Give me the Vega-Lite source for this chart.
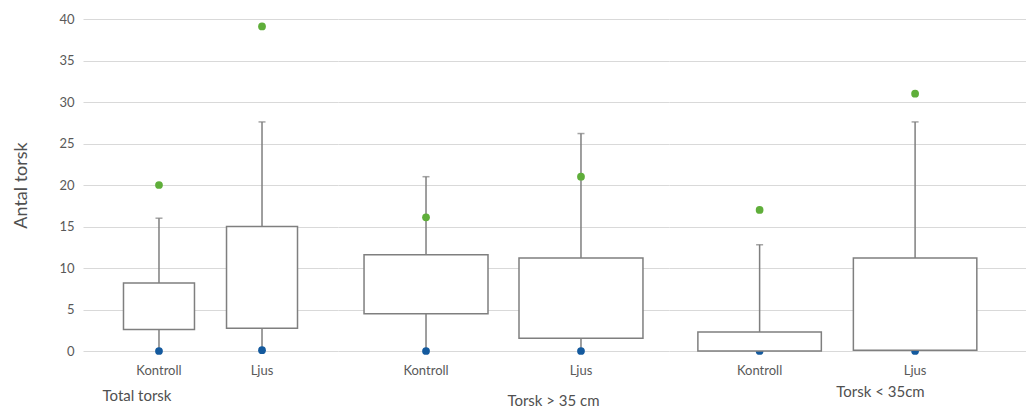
{
  "$schema": "https://vega.github.io/schema/vega-lite/v6.json",
  "padding": {"left": 12, "top": 13, "right": 0, "bottom": 0},
  "background": "white",
  "spacing": 0,
  "bounds": "flush",
  "config": {
    "view": {"stroke": null},
    "font": "Lato",
    "axis": {"gridColor": "#d9d9d9", "gridWidth": 1, "labelColor": "#595959", "titleColor": "#505050", "labelFont": "Lato", "titleFont": "Lato", "titleFontWeight": "normal"}
  },
  "data": {
    "values": [
      {"group": "Total torsk", "cat": "Kontroll", "low": 0, "q1": 2.6, "q3": 8.2, "hi": 16, "max": 20},
      {"group": "Total torsk", "cat": "Ljus", "low": 0.1, "q1": 2.75, "q3": 15, "hi": 27.6, "max": 39.1},
      {"group": "Torsk > 35 cm", "cat": "Kontroll", "low": 0, "q1": 4.5, "q3": 11.6, "hi": 21, "max": 16.1},
      {"group": "Torsk > 35 cm", "cat": "Ljus", "low": 0, "q1": 1.55, "q3": 11.2, "hi": 26.2, "max": 21},
      {"group": "Torsk < 35cm", "cat": "Kontroll", "low": 0, "q1": 0, "q3": 2.3, "hi": 12.8, "max": 17},
      {"group": "Torsk < 35cm", "cat": "Ljus", "low": 0, "q1": 0.1, "q3": 11.2, "hi": 27.6, "max": 31}
    ]
  },
  "hconcat": [
    {
      "width": 255, "height": 332,
      "transform": [{"filter": "datum.group === 'Total torsk'"}],
      "encoding": {
        "x": {"field": "cat", "type": "nominal", "sort": ["Kontroll", "Ljus"],
          "scale": {"paddingInner": 0.311, "paddingOuter": 0.393, "align": 0.5},
          "axis": {"title": "Total torsk", "labelAngle": 0, "domain": false, "ticks": false, "labelFontSize": 13, "labelPadding": 13, "titleFontSize": 15, "titleX": 19, "titleY": 44, "titleAlign": "left", "titleBaseline": "middle"}}
      },
      "layer": [
        {"mark": {"type": "rule", "color": "#7f7f7f", "strokeWidth": 1.5},
         "encoding": {"y": {"field": "low", "type": "quantitative", "scale": {"domain": [0, 40], "nice": false},
            "axis": {"title": "Antal torsk", "values": [0,5,10,15,20,25,30,35,40], "domain": false, "ticks": false, "labelFontSize": 13, "labelPadding": 9, "titleFontSize": 18, "titleX": -62, "titleY": 166, "titleAngle": -90, "titleAlign": "center", "titleBaseline": "middle"}},
          "y2": {"field": "q1"}}},
        {"mark": {"type": "rule", "color": "#7f7f7f", "strokeWidth": 1.5},
         "encoding": {"y": {"field": "q3", "type": "quantitative"}, "y2": {"field": "hi"}}},
        {"mark": {"type": "tick", "color": "#7f7f7f", "thickness": 1.5, "size": 7, "orient": "horizontal"},
         "encoding": {"y": {"field": "hi", "type": "quantitative"}}},
        {"mark": {"type": "circle", "color": "#5fae3a", "opacity": 1, "size": 60},
         "encoding": {"y": {"field": "max", "type": "quantitative"}}},
        {"mark": {"type": "circle", "color": "#145a9e", "opacity": 1, "size": 60},
         "encoding": {"y": {"field": "low", "type": "quantitative"}}},
        {"mark": {"type": "bar", "fill": "white", "stroke": "#7f7f7f", "strokeWidth": 1.5},
         "encoding": {"y": {"field": "q1", "type": "quantitative"}, "y2": {"field": "q3"}}}
      ]
    },
    {
      "width": 331, "height": 332,
      "transform": [{"filter": "datum.group === 'Torsk > 35 cm'"}],
      "encoding": {
        "x": {"field": "cat", "type": "nominal", "sort": ["Kontroll", "Ljus"],
          "scale": {"paddingInner": 0.2, "paddingOuter": 0.168, "align": 0.5},
          "axis": {"title": "Torsk > 35 cm", "labelAngle": 0, "domain": false, "ticks": false, "labelFontSize": 13, "labelPadding": 13, "titleFontSize": 15, "titleX": 215, "titleY": 49, "titleAlign": "center", "titleBaseline": "middle"}}
      },
      "layer": [
        {"mark": {"type": "rule", "color": "#7f7f7f", "strokeWidth": 1.5},
         "encoding": {"y": {"field": "low", "type": "quantitative", "scale": {"domain": [0, 40], "nice": false},
            "axis": {"title": null, "values": [0,5,10,15,20,25,30,35,40], "domain": false, "ticks": false, "labels": false, "minExtent": 0, "maxExtent": 0}},
          "y2": {"field": "q1"}}},
        {"mark": {"type": "rule", "color": "#7f7f7f", "strokeWidth": 1.5},
         "encoding": {"y": {"field": "q3", "type": "quantitative"}, "y2": {"field": "hi"}}},
        {"mark": {"type": "tick", "color": "#7f7f7f", "thickness": 1.5, "size": 7, "orient": "horizontal"},
         "encoding": {"y": {"field": "hi", "type": "quantitative"}}},
        {"mark": {"type": "circle", "color": "#5fae3a", "opacity": 1, "size": 60},
         "encoding": {"y": {"field": "max", "type": "quantitative"}}},
        {"mark": {"type": "circle", "color": "#145a9e", "opacity": 1, "size": 60},
         "encoding": {"y": {"field": "low", "type": "quantitative"}}},
        {"mark": {"type": "bar", "fill": "white", "stroke": "#7f7f7f", "strokeWidth": 1.5},
         "encoding": {"y": {"field": "q1", "type": "quantitative"}, "y2": {"field": "q3"}}}
      ]
    },
    {
      "width": 357, "height": 332,
      "transform": [{"filter": "datum.group === 'Torsk < 35cm'"}],
      "encoding": {
        "x": {"field": "cat", "type": "nominal", "sort": ["Kontroll", "Ljus"],
          "scale": {"paddingInner": 0.206, "paddingOuter": 0.251, "align": 0.37},
          "axis": {"title": "Torsk < 35cm", "labelAngle": 0, "domain": false, "ticks": false, "labelFontSize": 13, "labelPadding": 13, "titleFontSize": 15, "titleX": 211, "titleY": 40, "titleAlign": "center", "titleBaseline": "middle"}}
      },
      "layer": [
        {"mark": {"type": "rule", "color": "#7f7f7f", "strokeWidth": 1.5},
         "encoding": {"y": {"field": "low", "type": "quantitative", "scale": {"domain": [0, 40], "nice": false},
            "axis": {"title": null, "values": [0,5,10,15,20,25,30,35,40], "domain": false, "ticks": false, "labels": false, "minExtent": 0, "maxExtent": 0}},
          "y2": {"field": "q1"}}},
        {"mark": {"type": "rule", "color": "#7f7f7f", "strokeWidth": 1.5},
         "encoding": {"y": {"field": "q3", "type": "quantitative"}, "y2": {"field": "hi"}}},
        {"mark": {"type": "tick", "color": "#7f7f7f", "thickness": 1.5, "size": 7, "orient": "horizontal"},
         "encoding": {"y": {"field": "hi", "type": "quantitative"}}},
        {"mark": {"type": "circle", "color": "#5fae3a", "opacity": 1, "size": 60},
         "encoding": {"y": {"field": "max", "type": "quantitative"}}},
        {"mark": {"type": "circle", "color": "#145a9e", "opacity": 1, "size": 60},
         "encoding": {"y": {"field": "low", "type": "quantitative"}}},
        {"mark": {"type": "bar", "fill": "white", "stroke": "#7f7f7f", "strokeWidth": 1.5},
         "encoding": {"y": {"field": "q1", "type": "quantitative"}, "y2": {"field": "q3"}}}
      ]
    }
  ]
}
